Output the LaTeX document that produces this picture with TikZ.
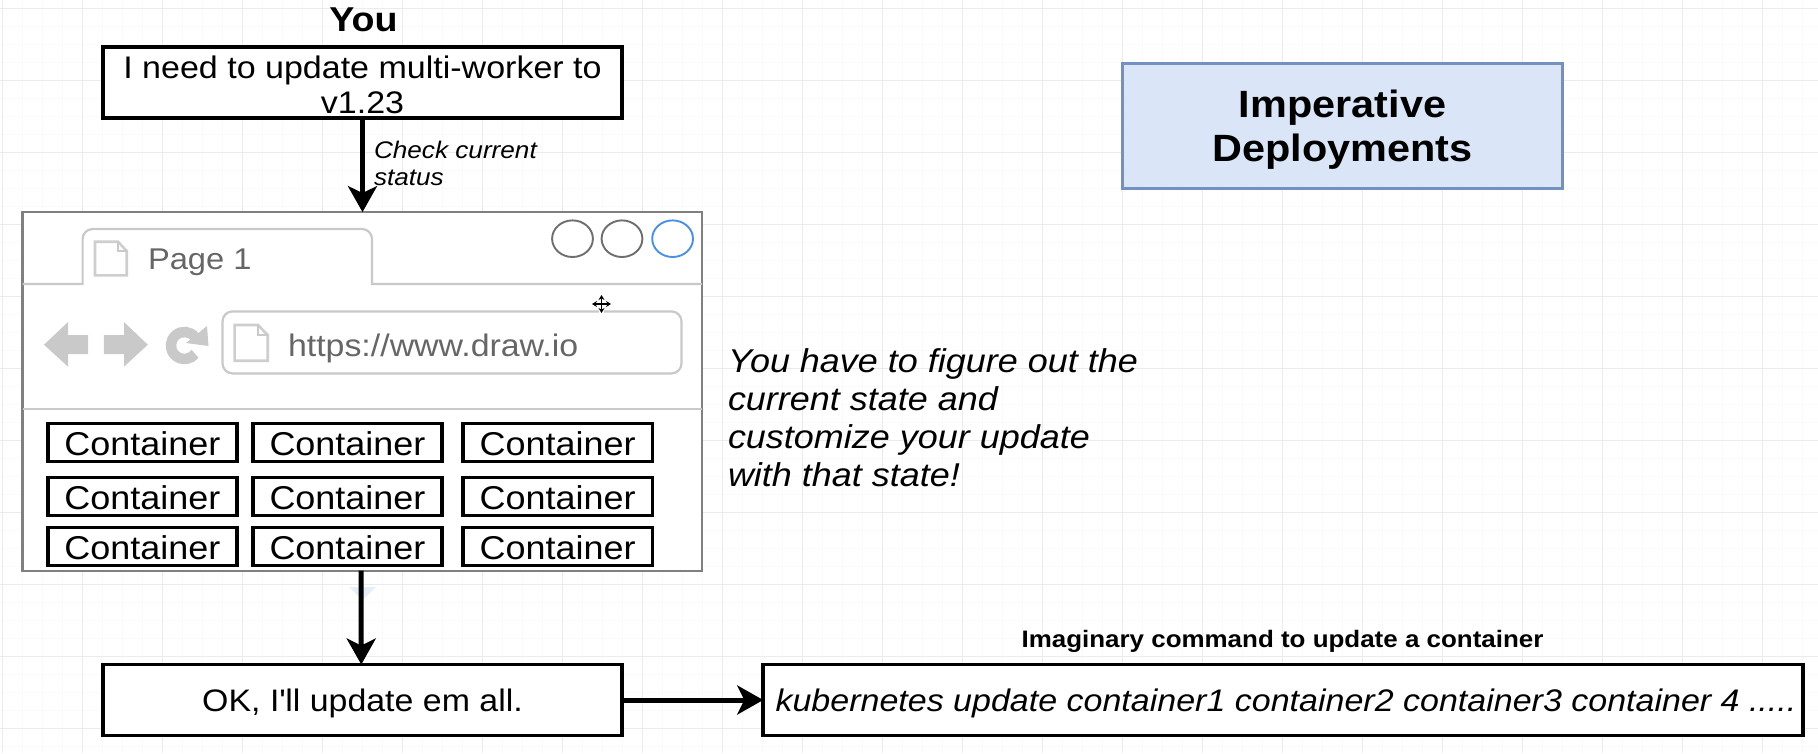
\documentclass[tikz,border=0pt]{standalone}
\usepackage{fontspec}
\setmainfont[FakeStretch=1.09]{Liberation Sans}
\usetikzlibrary{arrows.meta}
\definecolor{gridmaj}{HTML}{EBEBEB}
\definecolor{gridmin}{HTML}{FAFAFA}
\definecolor{chrome}{HTML}{C9C9C9}
\definecolor{winline}{HTML}{808080}
\definecolor{btnline}{HTML}{6E6E6E}
\definecolor{btnblue}{HTML}{4A90E2}
\definecolor{graytext}{HTML}{666666}
\definecolor{titlefill}{HTML}{DAE6F8}
\definecolor{titleline}{HTML}{7391BF}
\definecolor{ghost}{HTML}{E6EEFB}
\tikzset{
  fs/.style={font=\fontsize{#1}{#1}\selectfont},
  blackbox/.style={draw=black,line width=3.6pt,fill=white,inner sep=0pt,outer sep=0pt,align=center},
  contbox/.style={blackbox,minimum width=189.4pt,minimum height=38pt,text height=24.7pt,text depth=0pt,fs=33},
  label/.style={inner sep=0pt,outer sep=0pt,anchor=base west},
  flow/.style={line width=5pt,-{Stealth[length=26pt,width=29pt,inset=7pt]}},
  chromeline/.style={draw=chrome,line width=2.2pt},
  docicon/.style={draw=chrome!90!white,line width=2.6pt,line join=miter,fill=white},
  ctrl/.style={line width=1.9pt,fill=white},
  navicon/.style={fill=chrome,draw=none},
}
\begin{document}
\begin{tikzpicture}[x=1pt,y=-1pt]
\useasboundingbox (0,0) rectangle (1818,753);
\fill[white] (0,0) rectangle (1818,753);
% grid
\foreach \i in {0,...,90} \draw[gridmin,line width=0.8pt] ({2.4+20*\i},0) -- ({2.4+20*\i},753);
\foreach \i in {0,...,42} \draw[gridmin,line width=0.8pt] (0,{8+18*\i}) -- (1818,{8+18*\i});
\foreach \i in {0,...,22} \draw[gridmaj,line width=1pt] ({2.4+80*\i},0) -- ({2.4+80*\i},753);
\foreach \i in {0,...,10} \draw[gridmaj,line width=1pt] (0,{8+72*\i}) -- (1818,{8+72*\i});

% title
\node[inner sep=0pt,anchor=base,fs=34.5] (you) at (363.5,31.7) {\bfseries You};
\node[blackbox,minimum width=519pt,minimum height=71pt,font=\fontsize{31.2}{35.6}\selectfont] (need) at (362.5,82.7) {\rule{0pt}{27pt}I need to update multi-worker to\\v1.23};

% browser window
\node[draw=winline,line width=2.4pt,fill=white,minimum width=679.5pt,minimum height=358.6pt,inner sep=0pt,outer sep=0pt] (win) at (362.25,391.4) {};
\draw[chromeline] (win.west |- 0,284) -- (82.6,284) [rounded corners=10pt] -- (82.6,229) -- (372,229) [sharp corners] -- (372,284) -- (win.east |- 0,284);
\draw[chromeline] (win.west |- 0,409) -- (win.east |- 0,409);
\draw[docicon] (95,241.7) -- (118,241.7) -- (126.7,251) -- (126.7,275.3) -- (95,275.3) -- cycle;
\draw[chrome,line width=1.4pt] (118,241.7) -- (118,251) -- (126.7,251);
\node[label,text=graytext,fs=30] (page) at (148,269) {Page 1};
\draw[ctrl,draw=btnline] (572.5,238.7) ellipse [x radius=20.4pt,y radius=18.3pt];
\draw[ctrl,draw=btnline] (622,238.7) ellipse [x radius=20.4pt,y radius=18.3pt];
\draw[ctrl,draw=btnblue] (672.6,238.7) ellipse [x radius=20.4pt,y radius=18.3pt];
% navigation icons
\fill[navicon] (44,344.7) -- (68,322) -- (68,335) -- (88,335) -- (88,354) -- (68,354) -- (68,366.7) -- cycle;
\fill[navicon] (147.8,344.7) -- (124,322) -- (124,335) -- (103.8,335) -- (103.8,354) -- (124,354) -- (124,366.7) -- cycle;
\draw[chrome,line width=10.5pt] (194.8,336.8) arc[start angle=40,end angle=322,radius=13.5pt];
\fill[chrome] (207,326) -- (208.5,346) -- (186,343) -- cycle;
% address bar
\node[draw=chrome,line width=2.2pt,rounded corners=10pt,fill=white,minimum width=459pt,minimum height=62pt,inner sep=0pt,outer sep=0pt] (url) at (452,342.4) {};
\draw[docicon] (234.6,325) -- (258,325) -- (267.7,335) -- (267.7,360.7) -- (234.6,360.7) -- cycle;
\draw[chrome,line width=1.4pt] (258,325) -- (258,335) -- (267.7,335);
\node[label,text=graytext,fs=31.1] (urltext) at (288,356) {https://www.draw.io};
% move cursor
\draw[white,line width=5pt,line cap=round] (591.5,304) -- (611.5,304) (601.5,294) -- (601.5,314);
\draw[black,line width=1.5pt,{Stealth[length=5pt,width=6pt]}-{Stealth[length=5pt,width=6pt]}] (592,304) -- (611,304);
\draw[black,line width=1.5pt,{Stealth[length=5pt,width=6pt]}-{Stealth[length=5pt,width=6pt]}] (601.5,295) -- (601.5,313);

% containers
\node[contbox] (c11) at (142.4,442.65) {Container};
\node[contbox] (c12) at (347.5,442.65) {Container};
\node[contbox] (c13) at (557.6,442.65) {Container};
\node[contbox] (c21) at (142.4,496.65) {Container};
\node[contbox] (c22) at (347.5,496.65) {Container};
\node[contbox] (c23) at (557.6,496.65) {Container};
\node[contbox] (c31) at (142.4,546.65) {Container};
\node[contbox] (c32) at (347.5,546.65) {Container};
\node[contbox] (c33) at (557.6,546.65) {Container};

% note
\node[label,anchor=north west,font=\fontsize{33}{38}\selectfont\itshape,align=left] (note) at (728,348.5) {You have to figure out the\\current state and\\customize your update\\with that state!};

% title box
\node[draw=titleline,line width=3.4pt,fill=titlefill,minimum width=439.5pt,minimum height=125pt,inner sep=0pt,outer sep=0pt,align=center,font=\fontsize{38}{44.4}\selectfont\bfseries] (title) at (1342.5,126.2) {\rule{0pt}{35pt}Imperative\\Deployments};

% bottom row
\node[blackbox,minimum width=519pt,minimum height=71pt,text height=23.4pt,text depth=0pt,fs=31.1] (ok) at (362.5,700) {OK, I\textquotesingle ll update em all.};
\node[blackbox,minimum width=1039.5pt,minimum height=71pt,text height=23.4pt,text depth=0pt,font=\fontsize{31.2}{31.2}\selectfont\itshape] (cmd) at (1283,700) {\hspace*{6pt}kubernetes update container1 container2 container3 container 4 .....};
\node[inner sep=0pt,anchor=base,font=\fontsize{23.8}{23.8}\selectfont\bfseries] (imag) at (1282.5,647.7) {Imaginary command to update a container};

% ghost arrow hint
\fill[ghost] (349,587) -- (376,587) -- (362.5,600) -- cycle;

% connectors
\draw[flow] (need.south) -- (need.south |- win.north);
\node[label,font=\fontsize{24}{27.5}\selectfont\itshape,anchor=north west,align=left] (check) at (374,141) {Check current\\status};
\draw[flow] ([xshift=-1.2pt]win.south) -- ([xshift=-1.2pt]ok.north);
\draw[flow] (ok.east) -- (cmd.west);
\end{tikzpicture}
\end{document}
